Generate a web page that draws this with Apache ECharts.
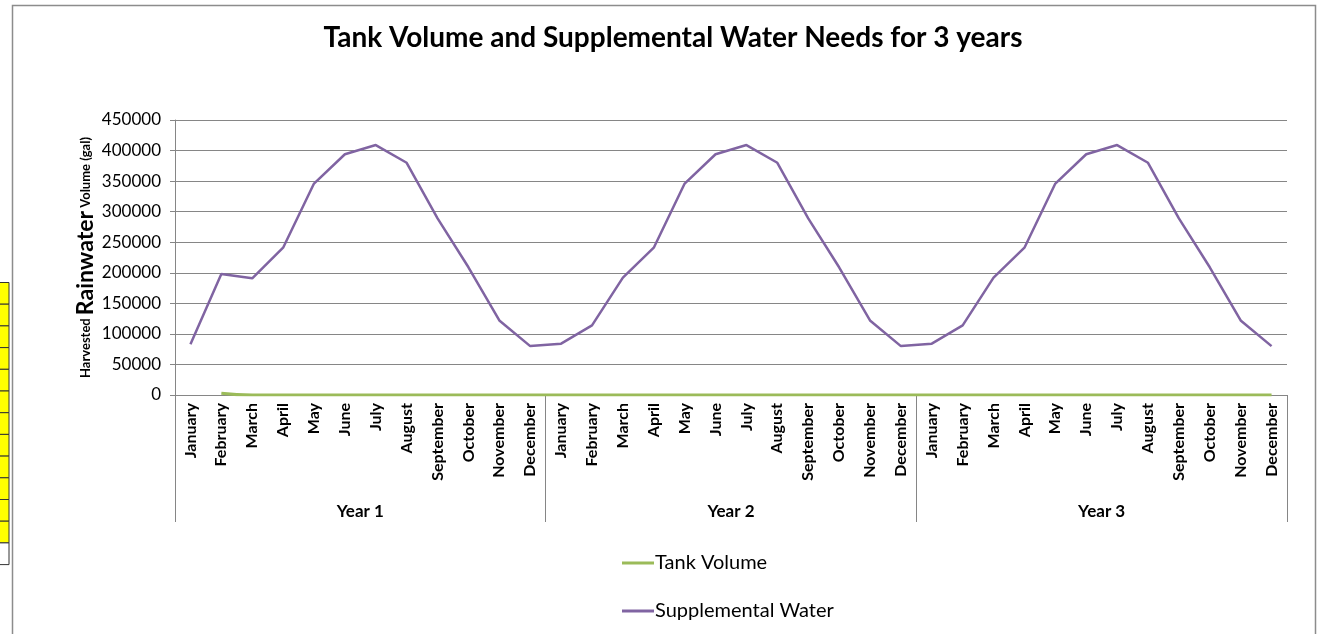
<!DOCTYPE html>
<html>
<head>
<meta charset="utf-8">
<script src="https://cdn.jsdelivr.net/npm/echarts@6/dist/echarts.min.js"></script>
<style>
html,body{margin:0;padding:0;background:#fff;}
#chart{width:1326px;height:634px;}
</style>
</head>
<body>
<div id="chart"></div>
<script>
var months = ['January','February','March','April','May','June','July','August','September','October','November','December'];
var years = ['Year 1','Year 2','Year 3'];
var yTicks = [0, 50000, 100000, 150000, 200000, 250000, 300000, 350000, 400000, 450000];

var supplementalY1 = [83000, 198000, 191000, 241000, 346000, 394000, 409000, 380000, 289000, 209000, 122000, 80000];
var supplementalY2 = [84000, 114000, 192000, 241000, 346000, 394000, 409000, 380000, 289000, 209000, 122000, 80000];
var supplementalY3 = [84000, 114000, 192000, 241000, 346000, 394000, 409000, 380000, 289000, 209000, 122000, 80000];

var tankY1 = [null, 3000, 0, 0, 0, 0, 0, 0, 0, 0, 0, 0];
var tankY2 = [0, 0, 0, 0, 0, 0, 0, 0, 0, 0, 0, 0];
var tankY3 = [0, 0, 0, 0, 0, 0, 0, 0, 0, 0, 0, 0];

var categories = months.concat(months, months);
var supplemental = supplementalY1.concat(supplementalY2, supplementalY3);
var tank = tankY1.concat(tankY2, tankY3);

var FONT = 'Lato, "Open Sans", sans-serif';
var chart = echarts.init(document.getElementById('chart'));

var cellRects = [];
for (var i = 0; i < 13; i++) {
  cellRects.push({
    type: 'rect',
    shape: {x: -2, y: 282.5 + i * 21.7, width: 11, height: 21.7},
    style: {fill: i < 12 ? '#ffff00' : '#ffffff', stroke: '#333', lineWidth: 1},
    silent: true
  });
}
cellRects.push({
  type: 'rect',
  shape: {x: 12.5, y: 5.5, width: 1303, height: 640},
  style: {fill: 'none', stroke: '#8c8c8c', lineWidth: 1.5},
  silent: true,
  z: -1
});

chart.setOption({
  animation: false,
  backgroundColor: '#fff',
  title: {
    text: 'Tank Volume and Supplemental Water Needs for 3 years',
    left: 668, top: 19, textAlign: 'center',
    textStyle: {fontFamily: FONT, fontWeight: 'bold', fontSize: 28, color: '#000'}
  },
  graphic: cellRects,
  legend: {
    orient: 'vertical',
    left: 617, top: 548,
    itemGap: 28,
    itemWidth: 32, itemHeight: 3,
    textStyle: {fontFamily: FONT, fontSize: 20, color: '#000', padding: [0,0,0,-4]},
    data: [
      {name: 'Tank Volume', icon: 'rect'},
      {name: 'Supplemental Water', icon: 'rect'}
    ]
  },
  grid: {left: 175, right: 39, top: 120, bottom: 239, containLabel: false},
  xAxis: [
    {
      type: 'category',
      data: categories,
      boundaryGap: true,
      axisLine: {show: true, lineStyle: {color: '#868686', width: 1}},
      axisTick: {show: false},
      axisLabel: {
        interval: 0, rotate: 90, margin: 8,
        fontFamily: FONT, fontWeight: 'bold', fontSize: 16, color: '#000'
      },
      splitLine: {show: false}
    },
    {
      type: 'category',
      data: years,
      position: 'bottom',
      offset: 127,
      boundaryGap: true,
      axisLine: {show: false},
      axisTick: {show: true, inside: true, length: 127, interval: 0, lineStyle: {color: '#868686', width: 1}},
      axisLabel: {
        interval: 0, inside: true, margin: 2,
        fontFamily: FONT, fontWeight: 'bold', fontSize: 17, color: '#000'
      },
      splitLine: {show: false}
    }
  ],
  yAxis: {
    type: 'value',
    min: yTicks[0], max: yTicks[yTicks.length - 1], interval: yTicks[1] - yTicks[0],
    axisLine: {show: true, lineStyle: {color: '#868686', width: 1}},
    axisTick: {show: true, length: 5, lineStyle: {color: '#868686'}},
    axisLabel: {fontFamily: FONT, fontSize: 17, color: '#000', margin: 14,
      formatter: function (v) { return String(v); }},
    splitLine: {show: true, lineStyle: {color: '#868686', width: 1}},
    name: '{s|Harvested }{b|Rainwater}{s| Volume (gal)}',
    nameLocation: 'middle',
    nameRotate: 90,
    nameGap: 78,
    nameMoveOverlap: false,
    nameTextStyle: {
      rich: {
        s: {fontFamily: FONT, fontWeight: 'bold', fontSize: 13, color: '#000'},
        b: {fontFamily: FONT, fontWeight: 'bold', fontSize: 23, color: '#000'}
      }
    }
  },
  series: [
    {
      name: 'Tank Volume',
      type: 'line',
      data: tank,
      smooth: 0.5,
      symbol: 'none',
      connectNulls: false,
      itemStyle: {color: '#9BBB59'},
      lineStyle: {color: '#9BBB59', width: 3},
      z: 3
    },
    {
      name: 'Supplemental Water',
      type: 'line',
      data: supplemental,
      symbol: 'none',
      itemStyle: {color: '#8064A2'},
      lineStyle: {color: '#8064A2', width: 2.5},
      z: 2
    }
  ]
});
</script>
</body>
</html>
